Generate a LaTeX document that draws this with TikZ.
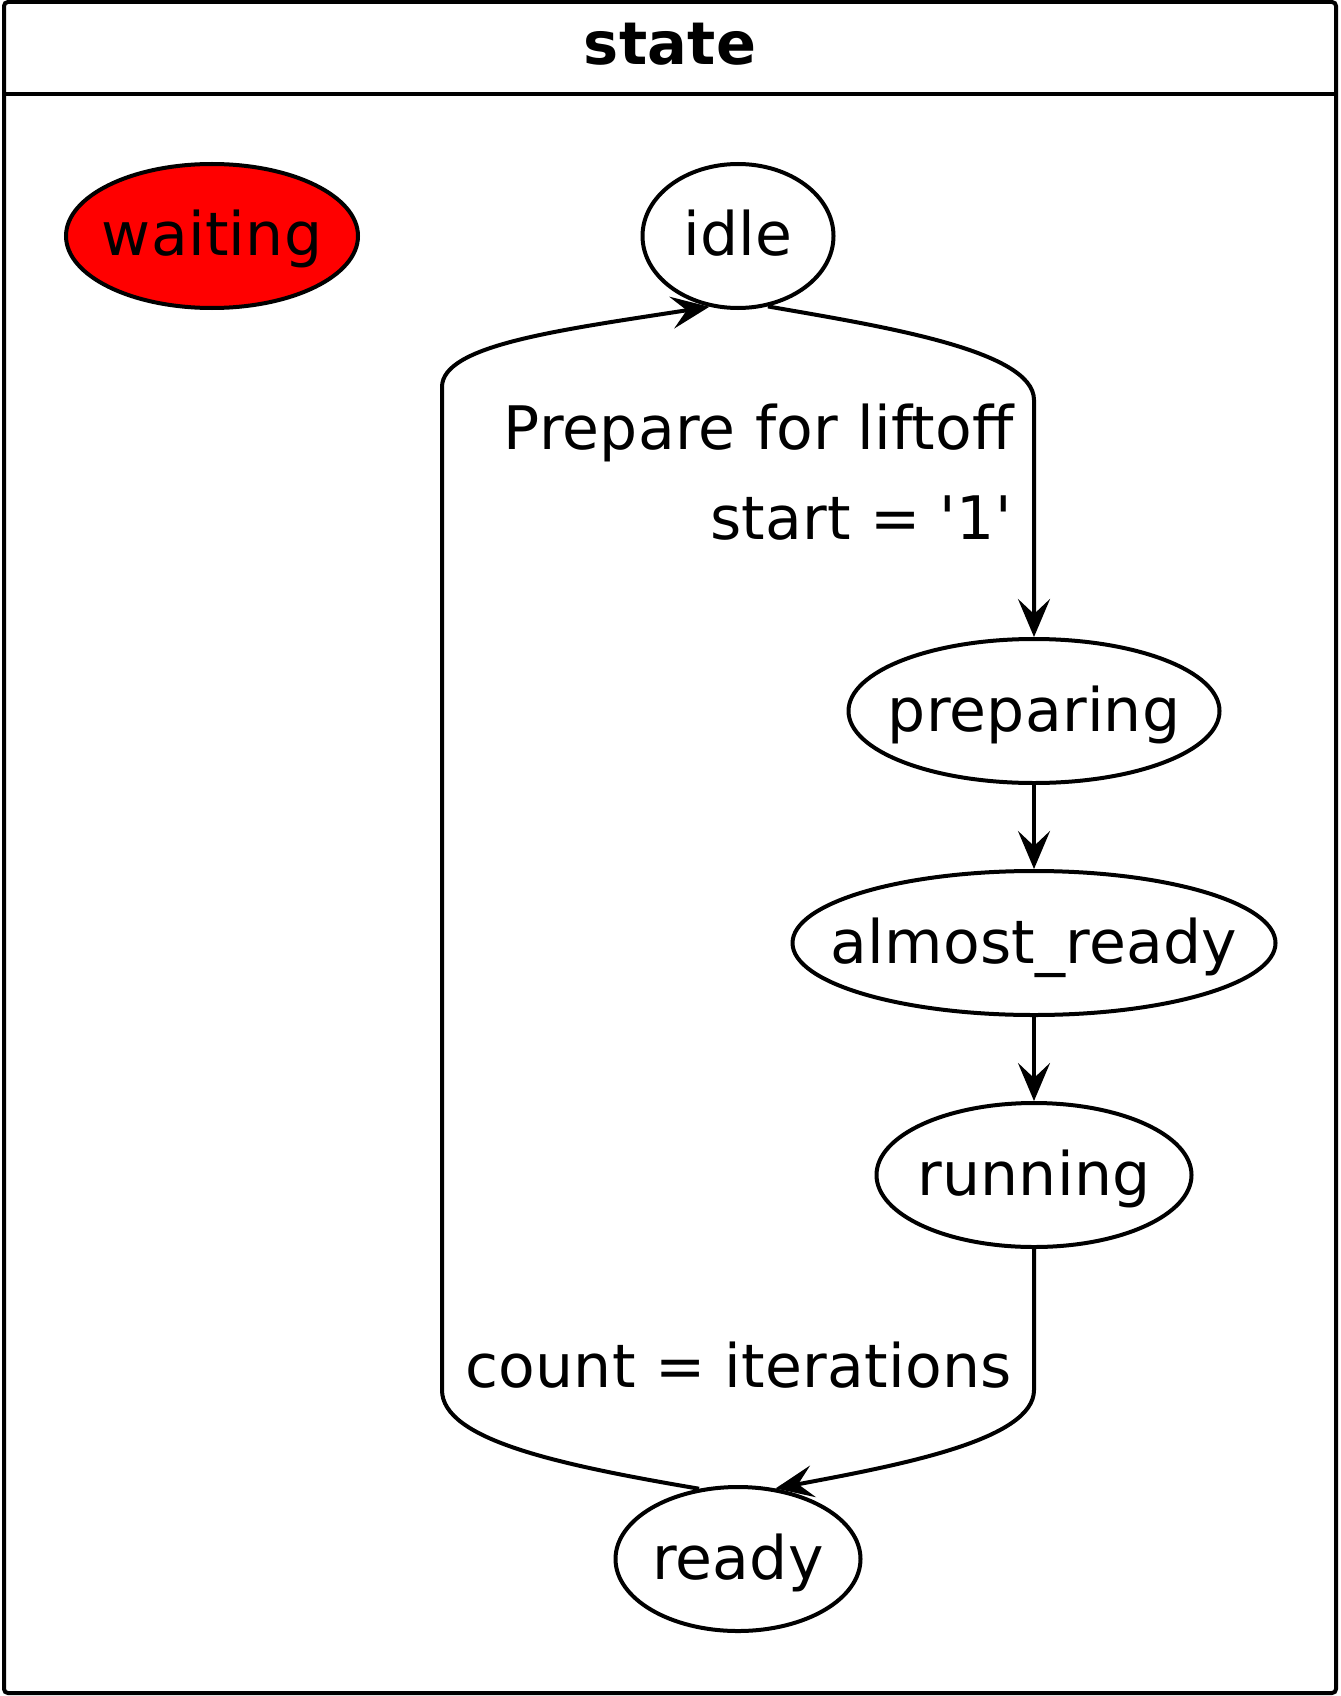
\documentclass[tikz,border=0pt]{standalone}
\usepackage{fontspec}
\setmainfont{DejaVu Sans}[Ligatures=TeXOff,LetterSpace=0.4]
\usetikzlibrary{shapes.geometric,arrows.meta}
\begin{document}
\begin{tikzpicture}[x=0.5pt,y=-0.5pt,
  st/.style={ellipse,draw,line width=2pt,inner sep=0pt,
    font=\fontsize{30}{36}\selectfont,text height=21pt,text depth=1pt,minimum height=72pt},
  tr/.style={line width=2pt,-{Stealth[length=19pt,width=16pt,inset=7.5pt]}},
  lbl/.style={font=\fontsize{30}{36}\selectfont,anchor=base east,inner sep=0pt}]
\useasboundingbox (0,0) rectangle (1340,1696);
% frame
\draw[line width=2pt,rounded corners=2pt] (4,2) rectangle (1336,1693);
\draw[line width=2pt] (4,94) -- (1336,94);
\node[font=\bfseries\fontsize{29.5}{35}\selectfont,anchor=base,inner sep=0pt] (title) at (670,65) {state};
% states
\node[st,fill=red,minimum width=146pt] (waiting) at (212,236) {\makebox[0pt]{waiting}};
\node[st,minimum width=95.5pt] (idle) at (738,236) {\makebox[0pt]{idle}};
\node[st,minimum width=185.5pt] (preparing) at (1034,711) {\makebox[0pt]{preparing}};
\node[st,minimum width=241.5pt] (almost) at (1034,943) {\makebox[0pt]{almost\_ready}};
\node[st,minimum width=157.5pt] (running) at (1034,1175) {\makebox[0pt]{running}};
\node[st,minimum width=122.5pt] (ready) at (738,1559) {\makebox[0pt]{ready}};
% transitions
\draw[tr] (idle.-67) .. controls (880,326) and (1034,350) .. (1034,400) -- (preparing.north);
\draw[tr] (preparing.south) -- (almost.north);
\draw[tr] (almost.south) -- (running.north);
\draw[tr] (running.south) -- (1034,1390) .. controls (1034,1440) and (900,1465) .. (ready.62);
\draw[tr] (ready.119) .. controls (560,1465) and (442,1440) .. (442,1390) -- (442,387) .. controls (442,345) and (560,330) .. (idle.-112);
% labels
\node[lbl] (l1) at (1014,449) {Prepare for liftoff};
\node[lbl] (l2) at (1012,539) {start = '1'};
\node[lbl] (l3) at (1012,1387) {count = iterations};
\end{tikzpicture}
\end{document}
